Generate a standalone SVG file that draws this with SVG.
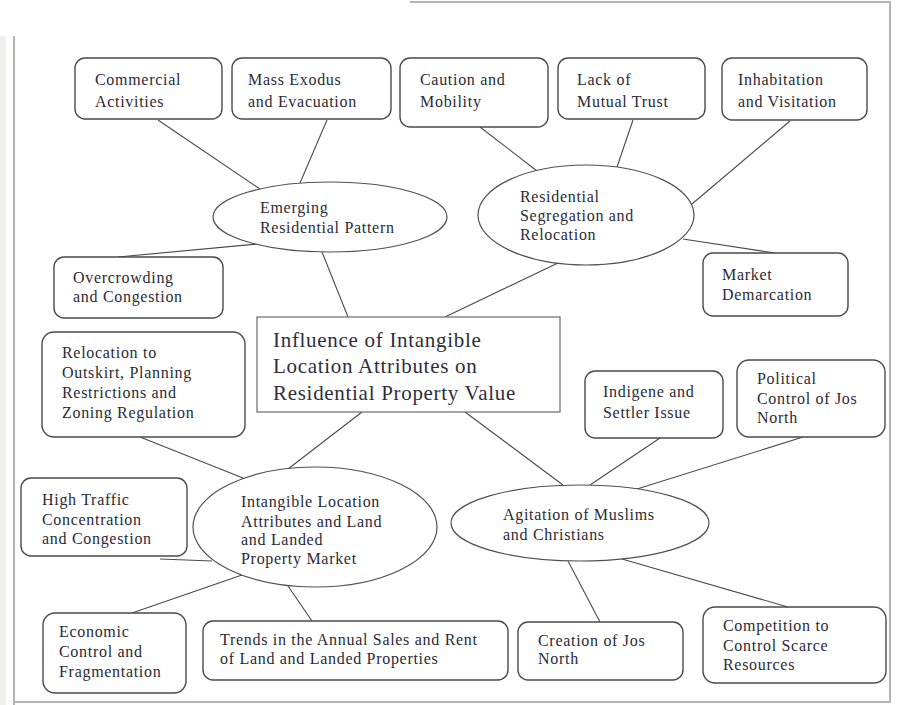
<svg xmlns="http://www.w3.org/2000/svg" width="897" height="705" viewBox="0 0 897 705">
  <style>
    .box { fill: #fff; stroke: #4a4a4a; stroke-width: 1.4; }
    .ell { fill: #fff; stroke: #505050; stroke-width: 1.2; }
    .main { fill: #fff; stroke: #6a6a6a; stroke-width: 1.2; }
    text { font-family: 'Liberation Serif', 'DejaVu Serif', serif; }
    .lbl { font-size: 16px; letter-spacing: 0.7px; fill: #2a2a36; }
    .big { font-size: 21px; letter-spacing: 0.7px; fill: #2e2e3a; }
    .links line { stroke: #4a4a4a; stroke-width: 1.1; }
    .frame { stroke: #b4b4b4; stroke-width: 2; fill: none; }
  </style>

  <!-- page background and frame -->
  <rect x="0" y="0" width="897" height="705" fill="#fff"/>
  <rect x="0" y="36" width="6" height="669" fill="#f0f0ee"/>
  <line class="frame" x1="14" y1="36" x2="14" y2="705"/>
  <line class="frame" x1="14" y1="702" x2="891" y2="702"/>
  <line class="frame" x1="890" y1="2" x2="890" y2="703"/>
  <line class="frame" x1="410" y1="2" x2="891" y2="2"/>

  <!-- connectors -->
  <g class="links">
    <line x1="158" y1="120" x2="260" y2="189"/>
    <line x1="327" y1="120" x2="300" y2="183"/>
    <line x1="480" y1="127" x2="537" y2="171"/>
    <line x1="633" y1="120" x2="617" y2="167"/>
    <line x1="790" y1="121" x2="692" y2="204"/>
    <line x1="257" y1="244" x2="118" y2="257"/>
    <line x1="322" y1="252" x2="348" y2="317"/>
    <line x1="558" y1="263" x2="445" y2="317"/>
    <line x1="683" y1="239" x2="775" y2="253"/>
    <line x1="362" y1="412" x2="288" y2="469"/>
    <line x1="465" y1="412" x2="563" y2="485"/>
    <line x1="140" y1="437" x2="243" y2="478"/>
    <line x1="160" y1="559" x2="212" y2="561"/>
    <line x1="242" y1="575" x2="132" y2="613"/>
    <line x1="288" y1="586" x2="312" y2="621"/>
    <line x1="660" y1="438" x2="590" y2="485"/>
    <line x1="803" y1="437" x2="637" y2="489"/>
    <line x1="568" y1="561" x2="600" y2="622"/>
    <line x1="622" y1="559" x2="788" y2="607"/>
  </g>

  <!-- central node -->
  <g id="influence">
    <rect class="main" x="257" y="317" width="303" height="95"/>
    <text class="big" x="273" y="347">Influence of Intangible</text>
    <text class="big" x="273" y="373">Location Attributes on</text>
    <text class="big" x="273" y="400">Residential Property Value</text>
  </g>

  <!-- top row -->
  <g id="commercial">
    <rect class="box" x="75" y="58" width="147" height="61" rx="10"/>
    <text class="lbl" x="95" y="85">Commercial</text>
    <text class="lbl" x="95" y="107">Activities</text>
  </g>
  <g id="exodus">
    <rect class="box" x="232" y="58" width="159" height="61" rx="10"/>
    <text class="lbl" x="248" y="85">Mass Exodus</text>
    <text class="lbl" x="248" y="107">and Evacuation</text>
  </g>
  <g id="caution">
    <rect class="box" x="400" y="58" width="148" height="69" rx="10"/>
    <text class="lbl" x="420" y="85">Caution and</text>
    <text class="lbl" x="420" y="107">Mobility</text>
  </g>
  <g id="trust">
    <rect class="box" x="558" y="58" width="147" height="61" rx="10"/>
    <text class="lbl" x="577" y="85">Lack of</text>
    <text class="lbl" x="577" y="107">Mutual Trust</text>
  </g>
  <g id="inhabitation">
    <rect class="box" x="722" y="58" width="145" height="62" rx="10"/>
    <text class="lbl" x="738" y="85">Inhabitation</text>
    <text class="lbl" x="738" y="107">and Visitation</text>
  </g>

  <!-- upper hubs -->
  <g id="emerging">
    <ellipse class="ell" cx="330" cy="217" rx="117" ry="35"/>
    <text class="lbl" x="260" y="213">Emerging</text>
    <text class="lbl" x="260" y="233">Residential Pattern</text>
  </g>
  <g id="segregation">
    <ellipse class="ell" cx="586" cy="215" rx="108" ry="50"/>
    <text class="lbl" x="520" y="202">Residential</text>
    <text class="lbl" x="520" y="221">Segregation and</text>
    <text class="lbl" x="520" y="240">Relocation</text>
  </g>

  <g id="overcrowding">
    <rect class="box" x="54" y="257" width="169" height="61" rx="10"/>
    <text class="lbl" x="73" y="283">Overcrowding</text>
    <text class="lbl" x="73" y="302">and Congestion</text>
  </g>
  <g id="market-demarcation">
    <rect class="box" x="703" y="253" width="145" height="63" rx="10"/>
    <text class="lbl" x="722" y="280">Market</text>
    <text class="lbl" x="722" y="300">Demarcation</text>
  </g>

  <g id="relocation">
    <rect class="box" x="42" y="332" width="203" height="105" rx="12"/>
    <text class="lbl" x="62" y="358">Relocation to</text>
    <text class="lbl" x="62" y="378">Outskirt, Planning</text>
    <text class="lbl" x="62" y="398">Restrictions and</text>
    <text class="lbl" x="62" y="418">Zoning Regulation</text>
  </g>
  <g id="indigene">
    <rect class="box" x="585" y="371" width="138" height="67" rx="10"/>
    <text class="lbl" x="603" y="397">Indigene and</text>
    <text class="lbl" x="603" y="418">Settler Issue</text>
  </g>
  <g id="political">
    <rect class="box" x="737" y="360" width="148" height="77" rx="12"/>
    <text class="lbl" x="757" y="384">Political</text>
    <text class="lbl" x="757" y="404">Control of Jos</text>
    <text class="lbl" x="757" y="423">North</text>
  </g>

  <!-- lower hubs -->
  <g id="high-traffic">
    <rect class="box" x="21" y="478" width="166" height="78" rx="10"/>
    <text class="lbl" x="42" y="505">High Traffic</text>
    <text class="lbl" x="42" y="525">Concentration</text>
    <text class="lbl" x="42" y="544">and Congestion</text>
  </g>
  <g id="land-market">
    <ellipse class="ell" cx="315" cy="527" rx="122" ry="60"/>
    <text class="lbl" x="241" y="507">Intangible Location</text>
    <text class="lbl" x="241" y="527">Attributes and Land</text>
    <text class="lbl" x="241" y="545">and Landed</text>
    <text class="lbl" x="241" y="564">Property Market</text>
  </g>
  <g id="agitation">
    <ellipse class="ell" cx="580" cy="523" rx="129" ry="38"/>
    <text class="lbl" x="503" y="520">Agitation of Muslims</text>
    <text class="lbl" x="503" y="540">and Christians</text>
  </g>

  <!-- bottom row -->
  <g id="economic">
    <rect class="box" x="43" y="613" width="143" height="80" rx="12"/>
    <text class="lbl" x="59" y="637">Economic</text>
    <text class="lbl" x="59" y="657">Control and</text>
    <text class="lbl" x="59" y="677">Fragmentation</text>
  </g>
  <g id="trends">
    <rect class="box" x="203" y="621" width="305" height="59" rx="10"/>
    <text class="lbl" x="220" y="645">Trends in the Annual Sales and Rent</text>
    <text class="lbl" x="220" y="664">of Land and Landed Properties</text>
  </g>
  <g id="creation">
    <rect class="box" x="518" y="622" width="165" height="58" rx="10"/>
    <text class="lbl" x="538" y="646">Creation of Jos</text>
    <text class="lbl" x="538" y="664">North</text>
  </g>
  <g id="competition">
    <rect class="box" x="703" y="607" width="183" height="76" rx="12"/>
    <text class="lbl" x="723" y="631">Competition to</text>
    <text class="lbl" x="723" y="651">Control Scarce</text>
    <text class="lbl" x="723" y="670">Resources</text>
  </g>
</svg>
